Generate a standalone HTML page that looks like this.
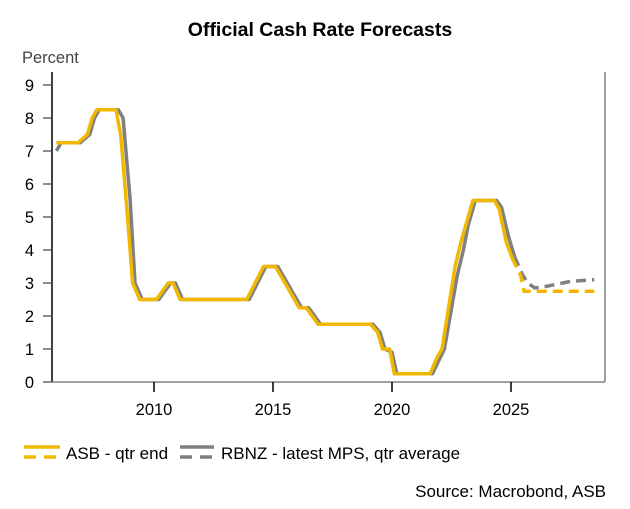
<!DOCTYPE html>
<html><head><meta charset="utf-8"><style>
body{margin:0;background:#fff;width:630px;height:509px;overflow:hidden;font-family:"Liberation Sans",sans-serif}
svg{display:block}
</style></head><body>
<svg id="chart" width="630" height="509">
<text x="320" y="36" text-anchor="middle" font-size="19.5" font-weight="bold" fill="#000">Official Cash Rate Forecasts</text>
<text x="22" y="63" font-size="16.5" fill="#444">Percent</text>
<g id="axes"></g>
<g id="series"></g>
<g>
<g>
<line x1="24" y1="447" x2="60" y2="447" stroke="#F0B800" stroke-width="3.5"/>
<line x1="24" y1="457" x2="60" y2="457" stroke="#F0B800" stroke-width="3.5" stroke-dasharray="12,8"/>
<text x="66" y="459" font-size="17" fill="#000">ASB - qtr end</text></g>
<g>
<line x1="180" y1="447" x2="214" y2="447" stroke="#808080" stroke-width="3.5"/>
<line x1="180" y1="457" x2="214" y2="457" stroke="#808080" stroke-width="3.5" stroke-dasharray="12,8"/>
<text x="221" y="459" font-size="17" fill="#000">RBNZ - latest MPS, qtr average</text></g>
</g>
<text x="606" y="497" text-anchor="end" font-size="17" fill="#000">Source: Macrobond, ASB</text>
</svg>
<script>
const yTicks=[0,1,2,3,4,5,6,7,8,9];
const xTicks=[2010,2015,2020,2025];
const asbT=[2005.9,2006.8,2007.2,2007.4,2007.6,2008.4,2008.6,2008.9,2009.1,2009.4,2010.1,2010.6,2010.8,2011.1,2013.9,2014.6,2015.1,2015.7,2016.1,2016.4,2016.9,2019.1,2019.4,2019.6,2019.9,2020.1,2021.6,2021.9,2022.1,2022.65,2022.9,2023.1,2023.4,2024.3,2024.5,2024.8,2025.05,2025.4,2025.55,2028.5];
const asbV=[7.25,7.25,7.5,8.0,8.25,8.25,7.5,4.9,3.0,2.5,2.5,3.0,3.0,2.5,2.5,3.5,3.5,2.75,2.25,2.25,1.75,1.75,1.5,1.0,1.0,0.25,0.25,0.75,1.0,3.5,4.25,4.75,5.5,5.5,5.25,4.25,3.75,3.25,2.75,2.75];
const asbForecastStart=2025.2;
const rbT=[2005.9,2006.1,2006.9,2007.3,2007.5,2007.7,2008.5,2008.7,2009.0,2009.2,2009.5,2010.2,2010.7,2010.9,2011.2,2014.0,2014.7,2015.2,2015.8,2016.2,2016.5,2017.0,2019.2,2019.5,2019.7,2020.0,2020.2,2021.7,2022.0,2022.2,2022.75,2023.0,2023.2,2023.5,2024.4,2024.6,2024.9,2025.15,2025.45,2025.7,2026.0,2026.5,2027.5,2028.5];
const rbV=[7.0,7.25,7.25,7.5,8.0,8.25,8.25,8.0,5.5,3.0,2.5,2.5,3.0,3.0,2.5,2.5,3.5,3.5,2.75,2.25,2.25,1.75,1.75,1.5,1.0,0.9,0.25,0.25,0.7,1.0,3.25,4.0,4.75,5.5,5.5,5.3,4.4,3.8,3.3,3.0,2.85,2.9,3.05,3.1];
const rbForecastStart=2025.3;
const NS="http://www.w3.org/2000/svg";
const X0=52,X1=605,Y0=382,Y9=85;
const xs=t=>154+(t-2010)*23.8;
const ys=v=>Y0-(v/9)*(Y0-Y9);
const ax=document.getElementById('axes'),se=document.getElementById('series');
function mk(tag,at,p){const e=document.createElementNS(NS,tag);for(const k in at)e.setAttribute(k,at[k]);p.appendChild(e);return e;}
let e=mk('line',{x1:X0,y1:72,x2:X0,y2:Y0,stroke:'#000','stroke-width':1.5},ax);


e=mk('line',{x1:X1,y1:72,x2:X1,y2:Y0,stroke:'#808080','stroke-width':1.5},ax);


e=mk('line',{x1:X0,y1:Y0,x2:X1,y2:Y0,stroke:'#808080','stroke-width':1.5},ax);


yTicks.forEach(v=>{
 const t=mk('line',{x1:43,y1:ys(v),x2:X0,y2:ys(v),stroke:'#444','stroke-width':1.2},ax);
 
 
 const l=mk('text',{x:34,y:ys(v)+6,'text-anchor':'end','font-size':16.5,fill:'#000'},ax);
 l.textContent=v;
 
 
});
xTicks.forEach(y=>{
 const t=mk('line',{x1:xs(y),y1:Y0,x2:xs(y),y2:Y0+10,stroke:'#000','stroke-width':1.5},ax);
 
 
 const l=mk('text',{x:xs(y),y:Y0+33,'text-anchor':'middle','font-size':16.5,fill:'#000'},ax);
 l.textContent=y;
 
 
});
function draw(T,V,split,color,name){
 const a=[],b=[];
 for(let i=0;i<T.length;i++){const p=xs(T[i]).toFixed(1)+','+ys(V[i]).toFixed(1);
  if(T[i]<=split)a.push(p);
  if(T[i]>=split||(i+1<T.length&&T[i+1]>split&&T[i]<=split))b.push(p);}
 let p1=mk('polyline',{points:a.join(' '),fill:'none',stroke:color,'stroke-width':3.5,'stroke-linejoin':'round'},se);
 
 
 let p2=mk('polyline',{points:b.join(' '),fill:'none',stroke:color,'stroke-width':3.5,'stroke-dasharray':'10,6'},se);
 
 
}
draw(rbT,rbV,rbForecastStart,'#808080','rbnz');
draw(asbT,asbV,asbForecastStart,'#F0B800','asb');
</script>
</body></html>
